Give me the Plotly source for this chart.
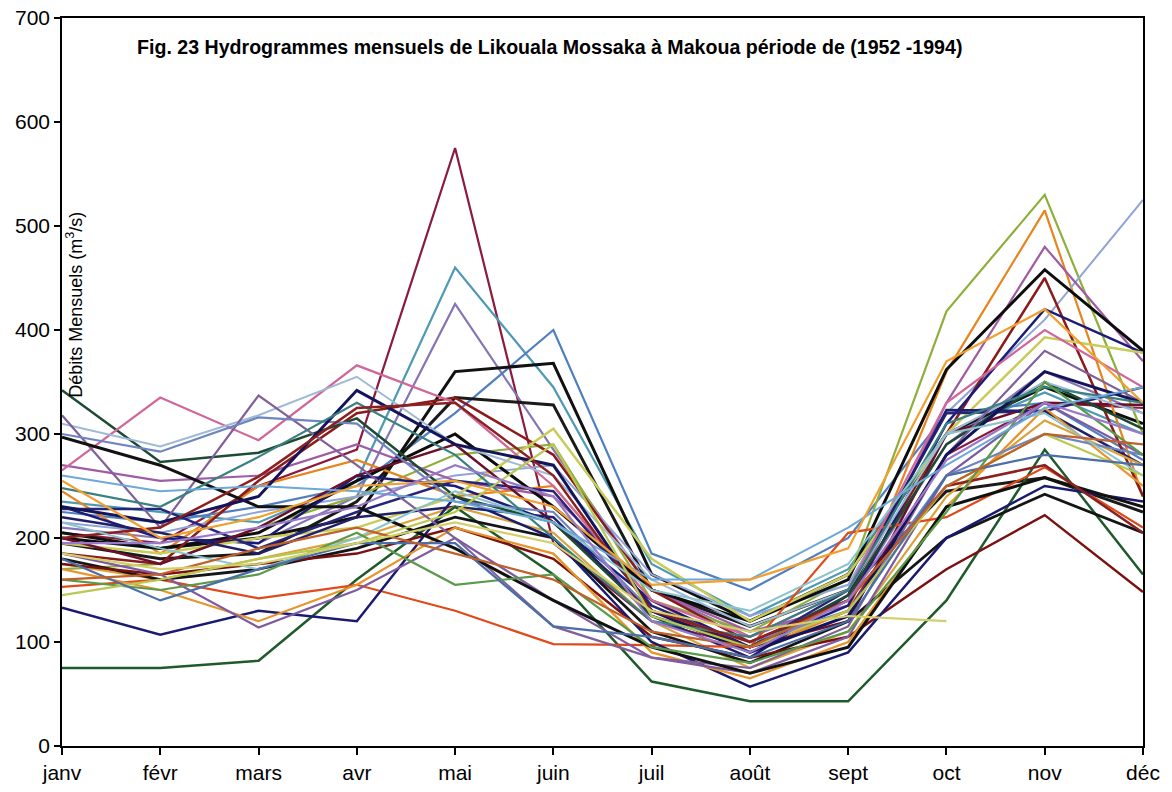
import plotly.graph_objects as go

months = ["janv", "févr", "mars", "avr", "mai", "juin", "juil", "août", "sept", "oct", "nov", "déc"]

years = list(range(1952, 1995))

# Monthly discharges (m3/s), one list per year
flows = [
    [205, 195, 250, 285, 575, 195, 120, 95, 130, 280, 330, 325],
    [235, 225, 215, 255, 460, 345, 175, 125, 170, 300, 340, 300],
    [210, 200, 195, 240, 425, 285, 150, 105, 140, 290, 360, 320],
    [225, 215, 230, 250, 320, 400, 185, 150, 200, 320, 330, 275],
    [205, 190, 200, 220, 360, 368, 165, 120, 165, 300, 345, 310],
    [195, 180, 185, 235, 335, 328, 150, 115, 150, 245, 258, 225],
    [170, 175, 210, 240, 280, 290, 140, 110, 160, 418, 530, 300],
    [245, 185, 250, 275, 240, 250, 140, 90, 130, 360, 515, 240],
    [215, 205, 225, 240, 260, 270, 165, 125, 155, 320, 410, 525],
    [270, 255, 260, 290, 255, 240, 150, 110, 135, 330, 480, 370],
    [200, 190, 205, 255, 300, 230, 150, 120, 160, 362, 458, 380],
    [185, 175, 255, 320, 335, 280, 150, 100, 140, 300, 450, 240],
    [230, 200, 195, 260, 250, 215, 140, 95, 135, 310, 420, 378],
    [195, 185, 200, 210, 240, 305, 180, 120, 165, 300, 393, 378],
    [228, 228, 190, 225, 255, 245, 135, 95, 150, 320, 322, 345],
    [200, 175, 210, 260, 290, 215, 130, 95, 120, 300, 330, 328],
    [220, 205, 185, 220, 230, 220, 125, 85, 145, 323, 322, 270],
    [175, 160, 180, 200, 230, 205, 120, 75, 110, 240, 313, 270],
    [75, 75, 82, 160, 230, 165, 62, 43, 43, 140, 285, 165],
    [153, 160, 142, 155, 130, 98, 97, 95, 205, 220, 268, 210],
    [180, 160, 170, 190, 220, 200, 110, 80, 120, 200, 242, 205],
    [175, 165, 175, 185, 210, 180, 105, 85, 105, 170, 222, 148],
    [133, 107, 130, 120, 240, 200, 100, 57, 90, 200, 250, 235],
    [170, 150, 120, 155, 210, 185, 90, 65, 100, 230, 325, 250],
    [185, 165, 114, 150, 200, 140, 85, 70, 105, 260, 330, 280],
    [342, 273, 282, 315, 240, 215, 125, 95, 145, 290, 350, 305],
    [265, 335, 294, 366, 330, 250, 140, 105, 150, 330, 400, 345],
    [310, 288, 318, 355, 290, 260, 160, 115, 150, 300, 350, 320],
    [318, 210, 337, 270, 200, 115, 85, 75, 115, 280, 380, 330],
    [300, 283, 316, 310, 235, 225, 130, 100, 130, 260, 300, 280],
    [297, 270, 230, 230, 190, 140, 95, 70, 95, 230, 258, 230],
    [230, 215, 240, 342, 290, 270, 130, 90, 125, 280, 360, 330],
    [248, 230, 278, 330, 280, 200, 120, 105, 150, 310, 345, 330],
    [200, 210, 259, 325, 330, 260, 130, 100, 140, 250, 270, 205],
    [215, 190, 170, 200, 245, 215, 150, 130, 175, 300, 320, 260],
    [160, 150, 165, 205, 155, 165, 95, 80, 110, 225, 350, 280],
    [145, 160, 180, 195, 225, 290, 125, 95, 130, 250, 300, 260],
    [180, 140, 170, 195, 195, 115, 105, 85, 120, 260, 280, 270],
    [160, 165, 190, 210, 185, 160, 110, 95, 140, 250, 300, 290],
    [260, 245, 250, 245, 235, 215, 160, 160, 210, 270, 325, 345],
    [255, 200, 220, 250, 255, 230, 155, 160, 190, 370, 420, 330],
    [195, 195, 210, 230, 270, 240, 120, 90, 140, 275, 330, 300],
    [185, 170, 175, 195, 215, 195, 130, 110, 125, 120, None, None],
]

colors = [
    "#8B1A3F", "#4E9AB5", "#8674B4", "#4F7FC0", "#111111", "#1A1A1A",
    "#8FAF3C", "#E6841E", "#8FA5D8", "#A05BA5", "#0D0D0D", "#8B1A1A",
    "#1C1C78", "#C8CC5A", "#25257A", "#6B0F2A", "#20206A", "#D9A23A",
    "#1F5A2A", "#E04A1A", "#151515", "#7A1010", "#1A1A70", "#E8942A",
    "#7E5AA0", "#1D4A32", "#D0679A", "#9FBAD6", "#80609A", "#6E85C0",
    "#111111", "#14145A", "#3A8080", "#8B2020", "#8AC4CC", "#5A9A4A",
    "#B8C850", "#4A6EA8", "#C0602A", "#6CA8D8", "#F0A030", "#9A7AC8",
    "#D4CF6A",
]

widths = [2.2, 2.2, 2.2, 2.2, 3.0, 3.0, 2.2, 2.2, 2.0, 2.2, 3.0, 2.5,
          2.5, 2.5, 2.5, 2.5, 2.5, 2.2, 2.5, 2.2, 2.8, 2.5, 2.5, 2.2,
          2.2, 2.5, 2.2, 2.0, 2.2, 2.2, 3.0, 3.0, 2.2, 2.5, 2.0, 2.2,
          2.2, 2.2, 2.2, 2.0, 2.2, 2.2, 2.2]

x_pos = list(range(len(months)))

fig = go.Figure()
for yr, vals, col, w in zip(years, flows, colors, widths):
    fig.add_trace(go.Scatter(
        x=x_pos, y=vals, mode="lines", name=str(yr),
        line=dict(color=col, width=w), connectgaps=False,
    ))

fig.update_layout(
    width=1172, height=792,
    margin=dict(l=62, r=29, t=18, b=46, autoexpand=False),
    paper_bgcolor="white", plot_bgcolor="white",
    showlegend=False,
    font=dict(family="Liberation Sans, Arial, sans-serif", color="black"),
)

fig.update_xaxes(
    range=[0, 11], tickmode="array", tickvals=x_pos, ticktext=months,
    showgrid=False, zeroline=False,
    showline=True, linecolor="black", linewidth=1.5, mirror=True,
    ticks="outside", ticklen=7, tickcolor="black", tickwidth=1.5,
    tickfont=dict(size=21), automargin=False, ticklabeloverflow="allow",
)
fig.update_yaxes(
    range=[0, 700], dtick=100, tick0=0,
    showgrid=False, zeroline=False,
    showline=True, linecolor="black", linewidth=1.5, mirror=True,
    ticks="outside", ticklen=6, tickcolor="black", tickwidth=1.5,
    tickfont=dict(size=21), automargin=False, ticklabeloverflow="allow",
)

fig.add_annotation(
    text="<b>Fig. 23 Hydrogrammes mensuels de Likouala Mossaka à Makoua période de (1952 -1994)</b>",
    xref="paper", yref="paper", x=0.0675, y=0.960,
    xanchor="left", yanchor="middle", showarrow=False,
    font=dict(size=19.6, color="black"),
)
fig.add_annotation(
    text="Débits Mensuels (m<sup>3</sup>/s)",
    xref="paper", yref="paper", x=0.012, y=0.606,
    xanchor="center", yanchor="middle", textangle=-90, showarrow=False,
    font=dict(size=18, color="black"),
)

# remove the default 8px page margin so the 1172x792 figure fills the window exactly
fig.write_html(
    "out.html",
    config={"displayModeBar": False},
    post_script="document.body.style.margin='0';",
)
